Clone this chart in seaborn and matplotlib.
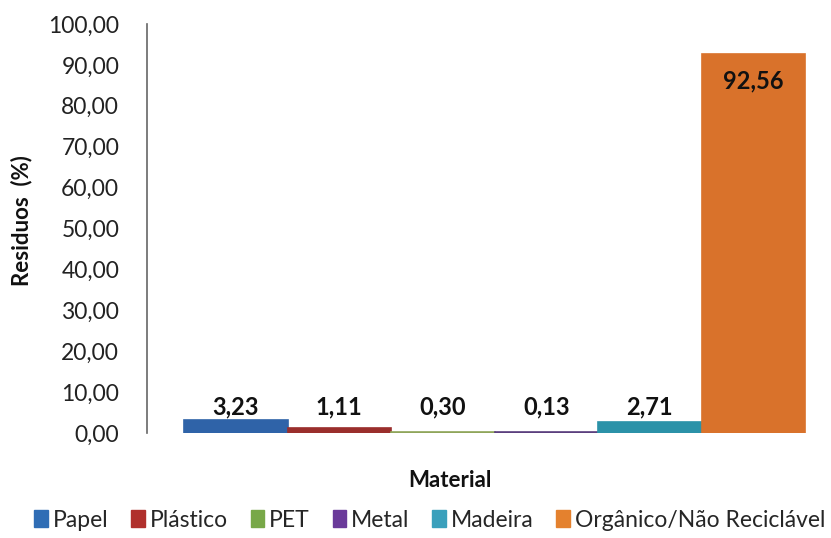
import matplotlib
matplotlib.use("Agg")
import matplotlib.pyplot as plt
import matplotlib.patches as mpatches
import seaborn as sns
import pandas as pd

materials = ["Papel", "Plástico", "PET", "Metal", "Madeira", "Orgânico/Não Reciclável"]
values = [3.23, 1.11, 0.30, 0.13, 2.71, 92.56]
bar_colors = ["#2F63A8", "#9A2E2C", "#8FA55A", "#5B3F7E", "#2B92A8", "#D9722B"]
legend_colors = ["#2F6DB5", "#B0302C", "#78A848", "#6A3A9A", "#3AA0BC", "#E4812E"]
y_ticks = [0, 10, 20, 30, 40, 50, 60, 70, 80, 90, 100]

df = pd.DataFrame({"grupo": ["Material"] * len(materials),
                   "material": materials,
                   "valor": values})

sns.set_theme(style="white")
plt.rcParams["font.family"] = ["Lato", "DejaVu Sans"]

fig = plt.figure(figsize=(8.31, 5.38), dpi=100)
ax = fig.add_axes([147 / 831, 105 / 538, 684 / 831, 409 / 538])

sns.barplot(data=df, x="grupo", y="valor", hue="material", hue_order=materials,
            palette=bar_colors, width=0.8, dodge=True, saturation=1,
            legend=False, ax=ax)

# thin outline so the smallest bars stay visible
for patch, c in zip(ax.patches, bar_colors):
    patch.set_edgecolor(c)
    patch.set_linewidth(1.2)

ax.set_xlim(-0.4477, 0.4335)
ax.set_ylim(0, 100)
ax.set_yticks(y_ticks)
ax.set_yticklabels([f"{t:.2f}".replace(".", ",") for t in y_ticks], fontsize=16.5, color="#222222")
ax.tick_params(axis="y", length=0, pad=20)
ax.set_xticks([])
ax.set_xlabel("Material", fontsize=16, fontweight="bold", color="#111111")
ax.xaxis.set_label_coords(0.443, -0.09)
ax.set_ylabel("Residuos  (%)", fontsize=16, fontweight="bold", color="#111111")
ax.yaxis.set_label_coords(-0.168, 0.52)

for side in ["top", "right", "bottom"]:
    ax.spines[side].set_visible(False)
ax.spines["left"].set_color("#666666")
ax.spines["left"].set_linewidth(1.2)

# value labels: a common row above the short bars, inside the tall one
for patch, val in zip(ax.patches, values):
    cx = patch.get_x() + patch.get_width() / 2
    label = f"{val:.2f}".replace(".", ",")
    if val > 50:
        ax.text(cx, val - 6.5, label, ha="center", va="center",
                fontsize=17, fontweight="bold", color="#111111")
    else:
        ax.text(cx, 6.4, label, ha="center", va="center",
                fontsize=17, fontweight="bold", color="#111111")

handles = [mpatches.Patch(color=c, label=m) for m, c in zip(materials, legend_colors)]
fig.legend(handles=handles, loc="center", bbox_to_anchor=(0.517, 0.033), ncol=6,
           frameon=False, fontsize=16.5, handlelength=0.6, handleheight=0.75,
           handletextpad=0.2, columnspacing=1.0, borderpad=0)

fig.savefig("out.png", dpi=100, facecolor="white")
